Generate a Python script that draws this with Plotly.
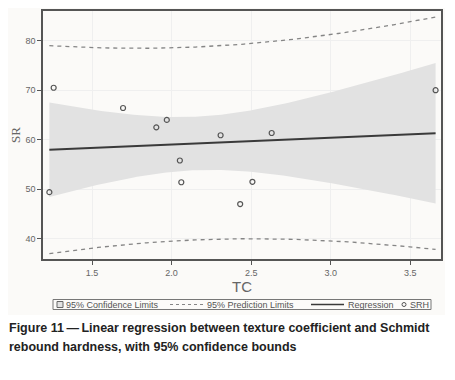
import numpy as np
import plotly.graph_objects as go

# Data
tc = [1.232, 1.259, 1.695, 1.904, 1.970, 2.052, 2.061, 2.308, 2.431, 2.508, 2.629, 3.659]
srh = [49.4, 70.5, 66.4, 62.5, 64.0, 55.8, 51.4, 60.9, 47.0, 51.5, 61.35, 70.0]
x_ticks = [1.5, 2.0, 2.5, 3.0, 3.5]
y_ticks = [40, 50, 60, 70, 80]
legend_labels = ["95% Confidence Limits", "95% Prediction Limits", "Regression", "SRH"]
T_CRIT = 2.228  # t(0.975, df=10)

x = np.array(tc)
y = np.array(srh)
n = len(x)
slope, intercept = np.polyfit(x, y, 1)
resid = y - (intercept + slope * x)
s = np.sqrt(np.sum(resid ** 2) / (n - 2))
sxx = np.sum((x - x.mean()) ** 2)
xg = np.linspace(x.min(), x.max(), 120)
yg = intercept + slope * xg
se_mean = s * np.sqrt(1 / n + (xg - x.mean()) ** 2 / sxx)
se_pred = s * np.sqrt(1 + 1 / n + (xg - x.mean()) ** 2 / sxx)

BAND = "#e2e2e2"
DASH = "#858585"
LINE = "#3a3a3a"
MARK = "#555555"

fig = go.Figure()
fig.add_trace(go.Scatter(x=xg, y=yg - T_CRIT * se_mean, mode="lines",
                         line=dict(width=0), showlegend=False, hoverinfo="skip"))
fig.add_trace(go.Scatter(x=xg, y=yg + T_CRIT * se_mean, mode="lines", fill="tonexty",
                         fillcolor=BAND, line=dict(width=0), showlegend=False,
                         name=legend_labels[0]))
fig.add_trace(go.Scatter(x=xg, y=yg + T_CRIT * se_pred, mode="lines",
                         line=dict(color=DASH, width=1.3, dash="4px,4px"),
                         showlegend=False, name=legend_labels[1]))
fig.add_trace(go.Scatter(x=xg, y=yg - T_CRIT * se_pred, mode="lines",
                         line=dict(color=DASH, width=1.3, dash="4px,4px"),
                         showlegend=False))
fig.add_trace(go.Scatter(x=xg, y=yg, mode="lines", showlegend=False,
                         line=dict(color=LINE, width=2), name=legend_labels[2]))
fig.add_trace(go.Scatter(x=tc, y=srh, mode="markers", name=legend_labels[3], showlegend=False,
                         marker=dict(symbol="circle-open", size=5,
                                     color=MARK, line=dict(width=1.2))))

# page geometry in pixels (page has an 8px body margin)
OFF = 8
FIG_W, FIG_H = 455 - 2 * OFF, 380 - 2 * OFF
L, T, R, B = 43, 11, 441, 259
W, H = R - L, B - T


def px(X):
    return (X - L) / W


def py(Y):
    return (B - Y) / H


# off-white figure background
fig.add_shape(type="rect", xref="paper", yref="paper", x0=px(OFF), x1=px(445),
              y0=py(315), y1=py(OFF), fillcolor="#fbfaf8", line=dict(width=0),
              layer="below")

# legend box
fig.add_shape(type="rect", xref="paper", yref="paper", x0=px(53), x1=px(431),
              y0=py(309.5), y1=py(299.5), fillcolor="#fcfbf9",
              line=dict(color="#777777", width=1))
ly = 304.5
fig.add_shape(type="rect", xref="paper", yref="paper", x0=px(57), x1=px(63),
              y0=py(ly + 3), y1=py(ly - 3), fillcolor=BAND, line=dict(color="#666666", width=1))
fig.add_shape(type="line", xref="paper", yref="paper", x0=px(170), x1=px(205),
              y0=py(ly), y1=py(ly), line=dict(color=DASH, width=1, dash="3px,3px"))
fig.add_shape(type="line", xref="paper", yref="paper", x0=px(311), x1=px(344),
              y0=py(ly), y1=py(ly), line=dict(color=LINE, width=1.5))
fig.add_shape(type="circle", xref="paper", yref="paper", x0=px(402), x1=px(406),
              y0=py(ly + 2), y1=py(ly - 2), line=dict(color=MARK, width=1))
for xt, label in zip([64, 205, 346, 408], legend_labels):
    fig.add_annotation(xref="paper", yref="paper", x=px(xt), y=py(ly), xanchor="left",
                       yanchor="middle", showarrow=False, text=label,
                       font=dict(family="Liberation Sans", size=9, color="#555555"))

axis_common = dict(showline=True, linecolor="#555555", linewidth=1.5, mirror=True,
                   ticks="outside", ticklen=4, tickcolor="#555555", automargin=False,
                   showgrid=True, gridcolor="#efefef", gridwidth=1,
                   zeroline=False, tickfont=dict(family="Liberation Sans", size=9, color="#666666"))

fig.update_layout(
    width=FIG_W, height=FIG_H,
    margin=dict(l=L - OFF, r=FIG_W - (R - OFF), t=T - OFF, b=FIG_H - (B - OFF)),
    paper_bgcolor="white", plot_bgcolor="#fcfbf9",
    xaxis=dict(range=[1.192, 3.693], tickvals=x_ticks, tickformat=".1f",
               title=dict(text="TC", font=dict(family="Liberation Sans", size=15, color="#666666"),
                          standoff=0), **axis_common),
    yaxis=dict(range=[35.9, 86], tickvals=y_ticks,
               title=dict(text="SR", font=dict(family="Liberation Serif", size=13, color="#666666"),
                          standoff=8), **axis_common),
    showlegend=False,
)

cap_font = dict(family="Liberation Sans", size=12.5, color="#222222")
fig.add_annotation(xref="paper", yref="paper", x=px(7), y=py(328), xanchor="left",
                   yanchor="middle", showarrow=False, font=cap_font,
                   text="<b>Figure 11\u2009\u2014\u2009Linear regression between texture coefficient and Schmidt</b>")
fig.add_annotation(xref="paper", yref="paper", x=px(7), y=py(347), xanchor="left",
                   yanchor="middle", showarrow=False, font=cap_font,
                   text="<b>rebound hardness, with 95% confidence bounds</b>")

fig.write_html("out.html")
